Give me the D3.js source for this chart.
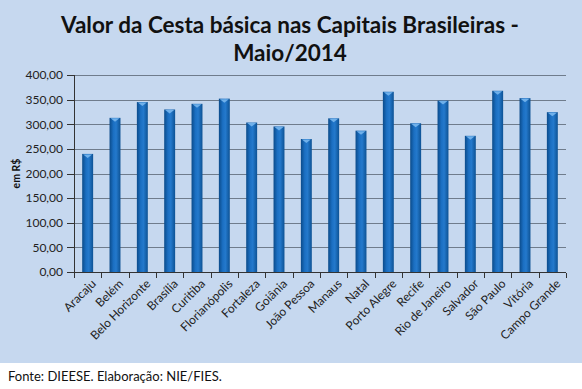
<html lang="pt">
<head>
    <meta charset="utf-8">
    <title>Cesta básica</title>
    <script type="text/javascript" src="https://cdn.jsdelivr.net/npm/d3@7"></script>
    <style>
        body { margin: 0; background: white; }
        .axis path, .axis line { fill: none; stroke: #333; shape-rendering: crispEdges; }
        .axis text { font-family: Lato, "Open Sans", sans-serif; font-size: 12px; fill: #222; }
    </style>
</head>
<body>
    <script type="text/javascript">
        var capitais = ["Aracaju", "Belém", "Belo Horizonte", "Brasília", "Curitiba", "Florianópolis",
            "Fortaleza", "Goiânia", "João Pessoa", "Manaus", "Natal", "Porto Alegre", "Recife",
            "Rio de Janeiro", "Salvador", "São Paulo", "Vitória", "Campo Grande"];
        var valores = [239.8, 313, 345, 330, 341.5, 352, 303.5, 295.5, 270, 312, 287, 366,
            302, 348, 276.5, 368, 353, 324.5];
        var yTicks = [0, 50, 100, 150, 200, 250, 300, 350, 400];

        var w = 582, h = 389;
        var margin = {left: 74, right: 16, top: 75, bottom: 117};

        var svg = d3.select("body").append("svg")
            .attr("width", w)
            .attr("height", h);

        // bar gradient (cylinder look)
        var defs = svg.append("defs");
        var grad = defs.append("linearGradient").attr("id", "barGrad")
            .attr("x1", "0%").attr("x2", "100%").attr("y1", "0%").attr("y2", "0%");
        grad.append("stop").attr("offset", "0%").attr("stop-color", "#0b4b8a");
        grad.append("stop").attr("offset", "35%").attr("stop-color", "#1b6fc2");
        grad.append("stop").attr("offset", "60%").attr("stop-color", "#2479cc");
        grad.append("stop").attr("offset", "100%").attr("stop-color", "#0d5294");

        svg.append("rect")
            .attr("width", w).attr("height", 363)
            .attr("fill", "#c6d8ef");

        var xScale = d3.scaleBand()
            .domain(capitais)
            .range([margin.left, w - margin.right])
            .paddingInner(0.6)
            .paddingOuter(0.3);

        var yScale = d3.scaleLinear()
            .domain([0, 400])
            .range([h - margin.bottom, margin.top]);

        // grid
        svg.append("g").selectAll("line")
            .data(yTicks.slice(1))
            .enter().append("line")
            .attr("x1", margin.left).attr("x2", w - margin.right)
            .attr("y1", function(d) { return Math.round(yScale(d)) + 0.5; })
            .attr("y2", function(d) { return Math.round(yScale(d)) + 0.5; })
            .attr("stroke", "#6f7c8c")
            .attr("stroke-width", 1);

        // bars
        var bw = xScale.bandwidth();
        var bars = svg.append("g").selectAll("g")
            .data(valores)
            .enter().append("g");

        bars.append("rect")
            .attr("x", function(d, i) { return xScale(capitais[i]); })
            .attr("y", function(d) { return yScale(d); })
            .attr("width", bw)
            .attr("height", function(d) { return yScale(0) - yScale(d); })
            .attr("fill", "url(#barGrad)");

        bars.append("path")
            .attr("d", function(d, i) {
                var x0 = xScale(capitais[i]), y0 = yScale(d);
                return "M" + (x0 + 1) + "," + (y0 + 0.5) + "L" + (x0 + bw - 1) + "," + (y0 + 0.5) +
                    "L" + (x0 + bw / 2) + "," + (y0 + 4) + "Z";
            })
            .attr("fill", "#6fb0ea");

        // axes
        var yAxis = d3.axisLeft(yScale)
            .tickValues(yTicks)
            .tickSize(7)
            .tickPadding(4)
            .tickFormat(function(d) { return d3.format(".2f")(d).replace(".", ","); });

        svg.append("g")
            .attr("class", "axis")
            .attr("transform", "translate(" + margin.left + ",0)")
            .call(yAxis)
            .call(function(g) { g.select(".domain").remove(); });

        svg.append("line")
            .attr("x1", margin.left + 0.5).attr("x2", margin.left + 0.5)
            .attr("y1", yScale(400)).attr("y2", yScale(0))
            .attr("stroke", "#333");

        var xAxis = svg.append("g")
            .attr("class", "axis")
            .attr("transform", "translate(0," + (Math.round(yScale(0)) + 0.5) + ")");

        xAxis.append("line")
            .attr("x1", margin.left).attr("x2", w - margin.right)
            .attr("stroke", "#333");

        xAxis.selectAll(".tk")
            .data(d3.range(capitais.length + 1))
            .enter().append("line")
            .attr("class", "tk")
            .attr("x1", function(i) { return Math.round(margin.left + i * (w - margin.left - margin.right) / capitais.length) + 0.5; })
            .attr("x2", function(i) { return Math.round(margin.left + i * (w - margin.left - margin.right) / capitais.length) + 0.5; })
            .attr("y1", 0).attr("y2", 5);

        xAxis.selectAll("text")
            .data(capitais)
            .enter().append("text")
            .attr("transform", function(d) {
                return "translate(" + (xScale(d) + bw / 2 + 6) + ",9) rotate(-45)";
            })
            .attr("text-anchor", "end")
            .attr("dy", "0.35em")
            .text(function(d) { return d; });

        // titles
        svg.append("text")
            .attr("x", 290).attr("y", 33)
            .attr("text-anchor", "middle")
            .attr("font-family", "Lato, sans-serif")
            .attr("font-weight", "bold")
            .attr("font-size", "22.5px")
            .attr("fill", "#111")
            .text("Valor da Cesta básica nas Capitais Brasileiras -");

        svg.append("text")
            .attr("x", 290).attr("y", 61)
            .attr("text-anchor", "middle")
            .attr("font-family", "Lato, sans-serif")
            .attr("font-weight", "bold")
            .attr("font-size", "22.5px")
            .attr("fill", "#111")
            .text("Maio/2014");

        svg.append("text")
            .attr("transform", "translate(20," + yScale(200) + ") rotate(-90)")
            .attr("text-anchor", "middle")
            .attr("font-family", "Lato, sans-serif")
            .attr("font-weight", "bold")
            .attr("font-size", "10.5px")
            .attr("fill", "#111")
            .text("em R$");

        svg.append("text")
            .attr("x", 8).attr("y", 381)
            .attr("font-family", "Lato, sans-serif")
            .attr("font-size", "13px")
            .attr("fill", "#111")
            .text("Fonte: DIEESE. Elaboração: NIE/FIES.");
    </script>
</body>
</html>
